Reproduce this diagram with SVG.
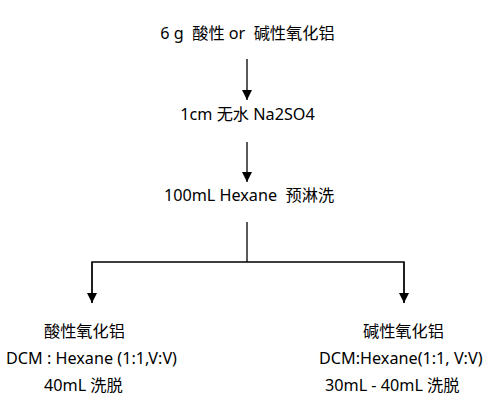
<svg xmlns="http://www.w3.org/2000/svg" width="494" height="406" viewBox="0 0 494 406">
<defs>
<style>
text{font-family:"Noto Sans","Noto Sans CJK SC",sans-serif;font-size:16.2px;fill:#000;white-space:pre}
.c{text-anchor:middle}
.ln{stroke:#000;stroke-width:1.3;fill:none}
</style>
<marker id="ah" viewBox="0 0 10 10" refX="10" refY="5" markerWidth="10" markerHeight="11" markerUnits="userSpaceOnUse" orient="auto">
<path d="M0,0 L10,5 L0,10 Z" fill="#000"/>
</marker>
</defs>
<rect width="494" height="406" fill="#fff"/>
<g id="n1"><text class="c" x="247.5" y="39" xml:space="preserve">6 g  酸性 or  碱性氧化铝</text></g>
<g id="n2"><text class="c" x="247.5" y="120">1cm 无水 Na2SO4</text></g>
<g id="n3"><text class="c" x="249" y="201" xml:space="preserve">100mL Hexane  预淋洗</text></g>
<g id="n4">
<text x="44" y="337">酸性氧化铝</text>
<text x="6" y="364">DCM : Hexane (1:1,V:V)</text>
<text x="44" y="391">40mL 洗脱</text>
</g>
<g id="n5">
<text x="363" y="337">碱性氧化铝</text>
<text x="319" y="364">DCM:Hexane(1:1, V:V)</text>
<text x="325" y="391">30mL - 40mL 洗脱</text>
</g>
<g id="connectors">
<line class="ln" x1="247" y1="59" x2="247" y2="100" marker-end="url(#ah)"/>
<line class="ln" x1="247" y1="142" x2="247" y2="182" marker-end="url(#ah)"/>
<polyline class="ln" points="247,222 247,262"/>
<polyline class="ln" points="92,303 92,262 404,262 404,303"/>
<line class="ln" x1="92" y1="262" x2="92" y2="303" marker-end="url(#ah)"/>
<line class="ln" x1="404" y1="262" x2="404" y2="303" marker-end="url(#ah)"/>
</g>
</svg>
